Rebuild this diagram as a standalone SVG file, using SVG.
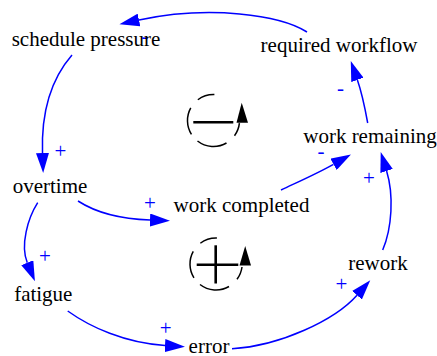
<svg xmlns="http://www.w3.org/2000/svg" width="437" height="356" viewBox="0 0 437 356">
<defs>
<style>
.node { font-size: 21px; fill: #000; text-anchor: middle; }
.sign { font-size: 21px; fill: #0000ff; text-anchor: middle; }
.edge { fill: none; stroke: #0000ff; stroke-width: 1.5; }
.arc { fill: none; stroke: #000; stroke-width: 1.5; }
.bar { stroke: #000; stroke-width: 2.6; }
</style>
<marker id="ah" viewBox="0 0 20 13" markerWidth="20" markerHeight="13" refX="0" refY="6.5" orient="auto" markerUnits="userSpaceOnUse">
<path d="M0,0 L20,6.5 L0,13 z" fill="#0000ff"/>
</marker>
</defs>
<rect width="437" height="356" fill="#fff"/>
<g font-family="Liberation Serif, DejaVu Serif, serif">
<g id="connectors">
<path class="edge" marker-end="url(#ah)" d="M307,32 C280,15 210,5 139,20"/>
<path class="edge" marker-end="url(#ah)" d="M72,55 C52,78 41,108 42.5,153"/>
<path class="edge" marker-end="url(#ah)" d="M37.7,202.7 C28,218 20,245 27.3,262.7"/>
<path class="edge" marker-end="url(#ah)" d="M78,201 C95,212 120,219 150,220"/>
<path class="edge" marker-end="url(#ah)" d="M67.7,311 C90,327 125,343 165,345.5"/>
<path class="edge" marker-end="url(#ah)" d="M232,348.7 C280,346 335,320 357,295.2"/>
<path class="edge" marker-end="url(#ah)" d="M382.7,250 C392,228 394,195 386.6,171"/>
<path class="edge" marker-end="url(#ah)" d="M281,190 C300,181 318,173 333.5,164.3"/>
<path class="edge" marker-end="url(#ah)" d="M367.7,123 C365,108 362,93 357.4,79.9"/>
<text class="sign" x="145" y="43.3">-</text>
<text class="sign" x="60.5" y="158.3">+</text>
<text class="sign" x="45" y="263">+</text>
<text class="sign" x="150" y="210">+</text>
<text class="sign" x="165.7" y="335">+</text>
<text class="sign" x="341.5" y="290.5">+</text>
<text class="sign" x="369" y="184.5">+</text>
<text class="sign" x="321" y="157.5">-</text>
<text class="sign" x="340.5" y="94.5">-</text>
</g>
<g id="node-schedule-pressure"><text class="node" x="86" y="46">schedule pressure</text></g>
<g id="node-required-workflow"><text class="node" x="339" y="52.3">required workflow</text></g>
<g id="node-work-remaining"><text class="node" x="370" y="142.7">work remaining</text></g>
<g id="node-overtime"><text class="node" x="50" y="192.7">overtime</text></g>
<g id="node-work-completed"><text class="node" x="241.5" y="211.7">work completed</text></g>
<g id="node-fatigue"><text class="node" x="43.3" y="301">fatigue</text></g>
<g id="node-error"><text class="node" x="209" y="353">error</text></g>
<g id="node-rework"><text class="node" x="378" y="270">rework</text></g>
</g>
<g id="loop-negative">
<path class="arc" d="M239.4,123.2 A26,26 0 0 1 234.5,135.8"/>
<path class="arc" d="M226.5,143 A26,26 0 0 1 197.5,141"/>
<path class="arc" d="M191.45,134.3 A26,26 0 0 1 190.76,107.9"/>
<path class="arc" d="M197.85,99.74 A26,26 0 0 1 214.4,94.5"/>
<line class="bar" x1="193.3" y1="122.3" x2="233.3" y2="122.3"/>
<path d="M241.7,102.7 L248,122.7 L236.5,122.7 z" fill="#000"/>
</g>
<g id="loop-positive">
<path class="arc" d="M242,267 A26,26 0 0 1 237,279.3"/>
<path class="arc" d="M229,286.5 A26,26 0 0 1 200,284.5"/>
<path class="arc" d="M193.95,277.8 A26,26 0 0 1 193.26,251.4"/>
<path class="arc" d="M200.35,243.24 A26,26 0 0 1 216.9,238"/>
<line class="bar" x1="196.7" y1="264.7" x2="238.3" y2="264.7"/>
<line class="bar" x1="215.7" y1="245.3" x2="215.7" y2="283.5"/>
<path d="M245.2,246 L251,265.5 L239.5,265.5 z" fill="#000"/>
</g>
</svg>
